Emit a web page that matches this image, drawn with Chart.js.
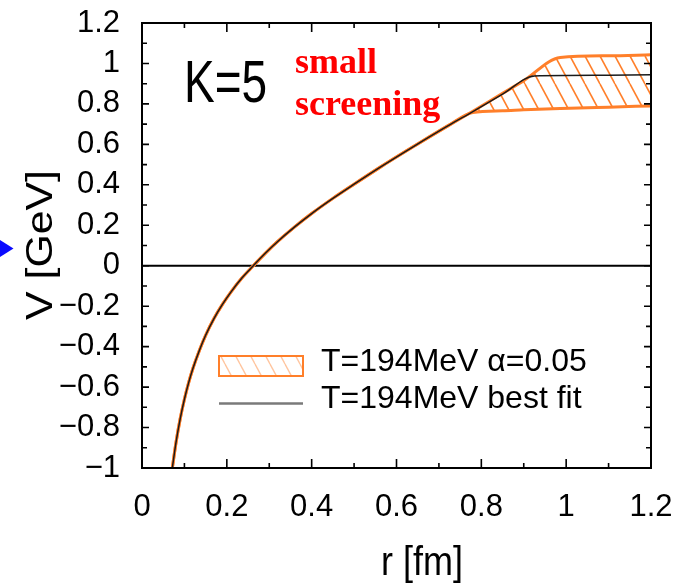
<!DOCTYPE html>
<html><head><meta charset="utf-8">
<script src="https://cdn.jsdelivr.net/npm/chart.js@4.4.0/dist/chart.umd.min.js"></script>
<style>
html,body{margin:0;padding:0;background:#fff;}
#wrap{position:relative;width:694px;height:587px;overflow:hidden;background:#fff;}
#c{position:absolute;left:0;top:0;}
.t{position:absolute;white-space:nowrap;line-height:1;color:#000;font-family:"Liberation Sans",Arial,sans-serif;}
</style></head><body>
<div id="wrap">
<canvas id="c" width="694" height="587"></canvas>
<div class="t" id="k5" style="left:184px;top:52px;font-size:46px;transform:scaleY(1.28);transform-origin:0 0;"></div>
<div class="t" id="note" style="left:295px;top:40px;font-size:36px;line-height:42px;font-family:'Liberation Serif','Times New Roman',serif;font-weight:bold;color:#ff0000;"></div>
<div class="t" id="leg" style="left:321px;top:342px;font-size:32px;line-height:37px;"></div>
<div class="t" id="xt" style="left:381px;top:541px;font-size:36px;transform:scaleY(1.15);transform-origin:0 0;"></div>
<div class="t" id="yt" style="left:40px;top:245px;font-size:36px;transform:translate(-50%,-50%) rotate(-90deg) scaleX(1.19);"></div>
</div>
<script>
// ---- data ----
const fitR = [0.0715, 0.08, 0.09, 0.10, 0.11, 0.12, 0.135, 0.15, 0.17, 0.19, 0.21, 0.235, 0.2625, 0.29, 0.32, 0.36, 0.40, 0.45, 0.50, 0.56, 0.64, 0.72, 0.78, 0.85, 0.925, 1.0, 1.1, 1.2];
const fitV = [-1.0, -0.876, -0.757, -0.660, -0.578, -0.508, -0.420, -0.344, -0.260, -0.190, -0.129, -0.062, 0.0, 0.06, 0.12, 0.192, 0.258, 0.333, 0.403, 0.485, 0.589, 0.690, 0.762, 0.848, 0.938, 0.940, 0.942, 0.944];

const bandR     = [0.0715, 0.08, 0.09, 0.10, 0.11, 0.12, 0.135, 0.15, 0.17, 0.19, 0.21, 0.235, 0.2625, 0.29, 0.32, 0.36, 0.40, 0.45, 0.50, 0.56, 0.64, 0.72, 0.78, 0.85, 0.90, 0.986, 1.1, 1.2];
const bandUpper = [-1.0, -0.876, -0.757, -0.660, -0.578, -0.508, -0.420, -0.344, -0.260, -0.190, -0.129, -0.062, 0.0, 0.06, 0.12, 0.192, 0.258, 0.333, 0.403, 0.485, 0.589, 0.690, 0.764, 0.852, 0.915, 1.03, 1.038, 1.043];
const bandLower = [-1.0, -0.876, -0.757, -0.660, -0.578, -0.508, -0.420, -0.344, -0.260, -0.190, -0.129, -0.062, 0.0, 0.06, 0.12, 0.192, 0.258, 0.333, 0.403, 0.485, 0.589, 0.690, 0.758, 0.766, 0.771, 0.777, 0.784, 0.79];

const xTickValues = [0, 0.2, 0.4, 0.6, 0.8, 1, 1.2];
const yTickValues = [-1, -0.8, -0.6, -0.4, -0.2, 0, 0.2, 0.4, 0.6, 0.8, 1, 1.2];
const legendLabels = ['T=194MeV \u03b1=0.05', 'T=194MeV best fit'];
const xTitle = 'r [fm]';
const yTitle = 'V [GeV]';
const panelLabel = 'K=5';
const noteLines = ['small', 'screening'];

// ---- text ----
document.getElementById('k5').textContent = panelLabel;
document.getElementById('note').innerHTML = noteLines.join('<br>');
document.getElementById('leg').innerHTML = legendLabels.join('<br>');
document.getElementById('xt').textContent = xTitle;
document.getElementById('yt').textContent = yTitle;

const ORANGE = '#ff7f2a';
const canvas = document.getElementById('c');
const ctx = canvas.getContext('2d');

function hatch(alpha, lw) {
  const c = document.createElement('canvas');
  c.width = 15; c.height = 28;
  const g = c.getContext('2d');
  g.strokeStyle = ORANGE; g.globalAlpha = alpha; g.lineWidth = lw;
  for (const dx of [-15, 0, 15]) {
    g.beginPath(); g.moveTo(dx, 0); g.lineTo(dx + 15, 28); g.stroke();
  }
  return ctx.createPattern(c, 'repeat');
}
const bandPattern = hatch(1, 1.6);
const legendPattern = hatch(0.45, 1.4);

const fmt = v => String(Math.round(v * 10) / 10).replace('-', '\u2212');
const pts = (xs, ys) => xs.map((x, i) => ({x: x, y: ys[i]}));

const deco = {
  id: 'deco',
  beforeDatasetsDraw(chart) {
    const {ctx, chartArea: a, scales: {y}} = chart;
    const y0 = y.getPixelForValue(0);
    ctx.save();
    ctx.strokeStyle = '#000'; ctx.lineWidth = 1.8;
    ctx.beginPath(); ctx.moveTo(a.left, y0); ctx.lineTo(a.right, y0); ctx.stroke();
    ctx.restore();
  },
  afterDatasetsDraw(chart) {
    const {ctx, chartArea: a, scales: {x, y}} = chart;
    ctx.save();
    ctx.strokeStyle = '#000'; ctx.lineWidth = 1.6;
    ctx.beginPath();
    for (let i = 1; i < 12; i++) {
      const px = x.getPixelForValue(i / 10);
      const len = i % 2 === 0 ? 9 : 5;
      ctx.moveTo(px, a.bottom); ctx.lineTo(px, a.bottom - len);
      ctx.moveTo(px, a.top); ctx.lineTo(px, a.top + len);
    }
    for (let i = -9; i < 12; i++) {
      const py = y.getPixelForValue(i / 10);
      const len = i % 2 === 0 ? 7 : 5;
      ctx.moveTo(a.left, py); ctx.lineTo(a.left + len, py);
      ctx.moveTo(a.right, py); ctx.lineTo(a.right - len, py);
    }
    ctx.stroke();
    ctx.lineWidth = 2;
    ctx.strokeRect(a.left, a.top, a.right - a.left, a.bottom - a.top);
    // legend swatches
    ctx.fillStyle = legendPattern;
    ctx.fillRect(219, 356, 84, 20);
    ctx.strokeStyle = ORANGE; ctx.lineWidth = 2;
    ctx.strokeRect(219, 356, 84, 20);
    ctx.strokeStyle = '#7a7a7a'; ctx.lineWidth = 2.5;
    ctx.beginPath(); ctx.moveTo(219, 403.5); ctx.lineTo(303, 403.5); ctx.stroke();
    // blue arrow head at the left edge
    ctx.fillStyle = '#0a0aff';
    ctx.beginPath(); ctx.moveTo(0, 240); ctx.lineTo(13.5, 248.5); ctx.lineTo(0, 257); ctx.closePath(); ctx.fill();
    ctx.restore();
  }
};

const tickFont = {family: "'Liberation Sans', Arial, sans-serif", size: 31};

new Chart(ctx, {
  type: 'line',
  data: {
    datasets: [
      {label: 'T=194MeV \u03b1=0.05 (upper)', data: pts(bandR, bandUpper), borderColor: ORANGE, borderWidth: 3,
       backgroundColor: bandPattern, fill: '+1', pointRadius: 0, cubicInterpolationMode: 'monotone', order: 1},
      {label: 'T=194MeV \u03b1=0.05 (lower)', data: pts(bandR, bandLower), borderColor: ORANGE, borderWidth: 3,
       fill: false, pointRadius: 0, cubicInterpolationMode: 'monotone', order: 2},
      {label: 'T=194MeV best fit', data: pts(fitR, fitV), borderColor: '#1a1a1a', borderWidth: 1.5,
       fill: false, pointRadius: 0, cubicInterpolationMode: 'monotone', order: -1}
    ]
  },
  options: {
    responsive: false, animation: false, devicePixelRatio: 1,
    layout: {padding: {left: 0, right: 43, top: 23, bottom: 0}},
    plugins: {legend: {display: false}, tooltip: {enabled: false}},
    scales: {
      x: {
        type: 'linear', min: 0, max: 1.2,
        afterBuildTicks: s => { s.ticks = xTickValues.map(v => ({value: v})); },
        afterFit: s => { s.height = 119; s.paddingLeft = 0; s.paddingRight = 0; },
        grid: {display: false, drawTicks: false}, border: {display: false},
        ticks: {padding: 21, color: '#000', font: tickFont, maxRotation: 0, autoSkip: false, callback: v => fmt(v)}
      },
      y: {
        type: 'linear', min: -1, max: 1.2,
        afterBuildTicks: s => { s.ticks = yTickValues.map(v => ({value: v})); },
        afterFit: s => { s.width = 142; s.paddingTop = 0; s.paddingBottom = 0; },
        grid: {display: false, drawTicks: false}, border: {display: false},
        ticks: {padding: 22, color: '#000', font: tickFont, autoSkip: false, callback: v => fmt(v)}
      }
    }
  },
  plugins: [deco]
});
</script>
</body></html>
